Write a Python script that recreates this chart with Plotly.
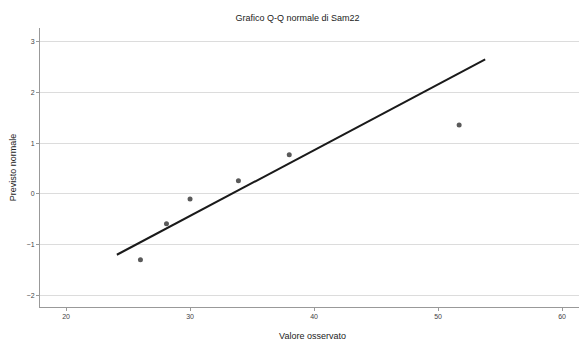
import plotly.graph_objects as go

# Data
observed = [26.0, 28.1, 30.0, 33.9, 38.0, 51.7]
expected = [-1.30, -0.59, -0.10, 0.26, 0.77, 1.36]
line_x = [24.1, 53.8]
line_y = [-1.20, 2.65]
x_ticks = [20, 30, 40, 50, 60]
y_ticks = [-2, -1, 0, 1, 2, 3]

title = "Grafico Q-Q normale di Sam22"
x_title = "Valore osservato"
y_title = "Previsto normale"

fig = go.Figure()
fig.add_trace(go.Scatter(x=line_x, y=line_y, mode="lines",
                         line=dict(color="#1a1a1a", width=2), showlegend=False))
fig.add_trace(go.Scatter(x=observed, y=expected, mode="markers",
                         marker=dict(color="#5a5a5a", size=5), showlegend=False))

fig.update_layout(
    width=579, height=337,
    margin=dict(l=32, r=2, t=20, b=38),
    paper_bgcolor="white", plot_bgcolor="white",
    font=dict(family="Liberation Sans, Arial, sans-serif", color="#222", size=8),
    title=dict(text=title, x=0.5, xanchor="center", y=0.972, yanchor="middle",
               font=dict(size=9, color="#222")),
    showlegend=False,
)
fig.update_xaxes(range=[17.9, 61.85], tickvals=x_ticks, showgrid=False, zeroline=False,
                 automargin=False,
                 showline=True, linecolor="#999", linewidth=1,
                 ticks="outside", ticklen=3, tickcolor="#999",
                 tickfont=dict(size=7, color="#444"),
                 title=dict(text=x_title, font=dict(size=9, color="#222"), standoff=13))
fig.update_yaxes(range=[-2.23, 3.27], tickvals=y_ticks, showgrid=True, gridcolor="#dcdcdc",
                 gridwidth=1, zeroline=False, automargin=False,
                 showline=True, linecolor="#999", linewidth=1,
                 ticks="outside", ticklen=3, tickcolor="#999",
                 tickfont=dict(size=7, color="#444"),
                 title=dict(text=y_title, font=dict(size=9, color="#222"), standoff=8))

fig.write_html("out.html")
